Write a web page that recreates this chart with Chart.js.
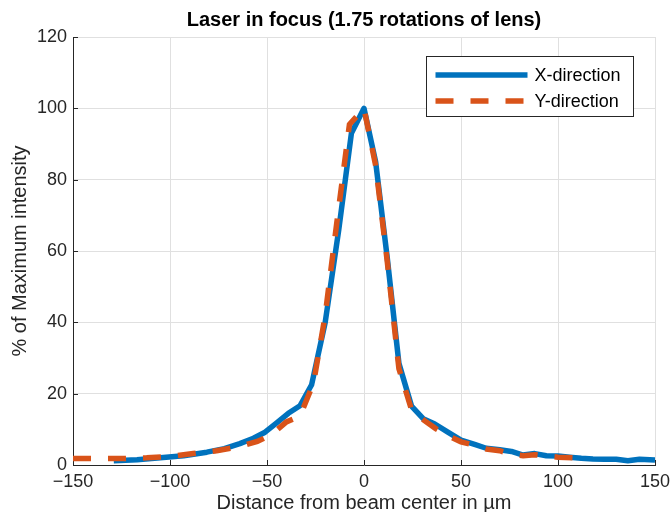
<!DOCTYPE html>
<html>
<head>
<meta charset="utf-8">
<script src="https://cdn.jsdelivr.net/npm/chart.js@4"></script>
<style>
  body { margin: 0; background: #fff; }
  canvas { display: block; }
</style>
</head>
<body>
<canvas id="grafico" width="670" height="512"></canvas>
<script>
// X-direction profile (position in um, % of max)
const xPos = [-129, -117, -105, -93, -81, -72, -64, -57, -51, -45, -39, -33, -27, -20, -13, -6.5, 0,
  6, 12, 18, 24.5, 30.5, 36.5, 43, 50, 57, 63, 70, 76, 82, 88, 94, 100, 106, 112, 118, 124, 130, 136, 142, 150];
const xIntensity = [1.2, 1.5, 2.0, 2.6, 3.6, 4.6, 6.0, 7.5, 9.2, 11.8, 14.5, 16.6, 22.5, 40, 66, 93, 100,
  85, 58, 28.5, 16.5, 13.0, 11.5, 9.3, 7.0, 5.8, 4.7, 4.3, 3.8, 2.8, 3.2, 2.6, 2.5, 2.2, 1.9, 1.7, 1.6, 1.6, 1.2, 1.6, 1.4];

// Y-direction profile
const yPos = [-150, -125, -112, -100, -88, -76, -64, -55, -48, -40, -33, -26, -20, -14, -7.5, 0,
  6, 12, 18, 24.5, 31, 37, 43, 50, 57, 63, 70, 76, 82, 88, 94, 100, 108, 115];
const yIntensity = [1.8, 1.8, 2.0, 2.4, 3.2, 4.0, 5.2, 6.6, 8.4, 12.1, 13.7, 23, 42, 68, 95.5, 100,
  84, 57, 27, 15.5, 12.5, 10.2, 8.3, 6.5, 5.5, 4.5, 4.0, 3.0, 2.6, 2.9, 2.5, 2.2, 2.0, 2.0];

const seriesNames = ['X-direction', 'Y-direction'];
const xTicks = { min: -150, max: 150, step: 50 };
const yTicks = { min: 0, max: 120, step: 20 };

const FONT = "'Liberation Sans', Arial, Helvetica, sans-serif";
const AXIS = '#262626';
const minus = v => String(v).replace('-', '\u2212');

// MATLAB style ticks pointing into the plot
const innerTicks = {
  id: 'innerTicks',
  beforeDatasetsDraw(chart) {
    const { ctx, chartArea, scales } = chart;
    ctx.save();
    ctx.strokeStyle = AXIS;
    ctx.lineWidth = 1;
    ctx.beginPath();
    scales.x.ticks.forEach(t => {
      const px = Math.round(scales.x.getPixelForValue(t.value)) + 0.5;
      ctx.moveTo(px, chartArea.bottom);
      ctx.lineTo(px, chartArea.bottom - 5);
    });
    scales.y.ticks.forEach(t => {
      const py = Math.round(scales.y.getPixelForValue(t.value)) + 0.5;
      ctx.moveTo(chartArea.left, py);
      ctx.lineTo(chartArea.left + 5, py);
    });
    ctx.stroke();
    ctx.restore();
  }
};

// boxed legend in the upper right of the axes
const boxLegend = {
  id: 'boxLegend',
  afterDraw(chart) {
    const { ctx, chartArea } = chart;
    const w = 207, h = 60;
    const left = Math.round(chartArea.right - 22 - w) + 0.5;
    const top = Math.round(chartArea.top + 19) + 0.5;
    ctx.save();
    ctx.fillStyle = '#fff';
    ctx.fillRect(left, top, w, h);
    ctx.strokeStyle = AXIS;
    ctx.lineWidth = 1;
    ctx.strokeRect(left, top, w, h);
    chart.data.datasets.forEach((ds, i) => {
      const y = top + 18.5 + i * 26;
      ctx.beginPath();
      ctx.strokeStyle = ds.borderColor;
      ctx.lineWidth = 5.5;
      ctx.setLineDash(ds.borderDash || []);
      ctx.moveTo(left + 9, y);
      ctx.lineTo(left + 101, y);
      ctx.stroke();
      ctx.setLineDash([]);
      ctx.fillStyle = '#000';
      ctx.font = '18px ' + FONT;
      ctx.textBaseline = 'middle';
      ctx.fillText(ds.label, left + 108, y + 1);
    });
    ctx.restore();
  }
};

const ctx = document.getElementById('grafico').getContext('2d');
new Chart(ctx, {
  type: 'line',
  data: {
    datasets: [{
      label: seriesNames[0],
      data: xPos.map((x, i) => ({ x: x, y: xIntensity[i] })),
      borderColor: '#0072BD',
      borderWidth: 5.5,
      borderJoinStyle: 'round',
      pointRadius: 0,
      order: 1
    }, {
      label: seriesNames[1],
      data: yPos.map((x, i) => ({ x: x, y: yIntensity[i] })),
      borderColor: '#D95319',
      borderWidth: 5.5,
      borderDash: [18, 17],
      pointRadius: 0,
      order: 0
    }]
  },
  options: {
    responsive: false,
    animation: false,
    layout: { padding: { left: 0, right: 0, top: 0, bottom: 0 } },
    plugins: {
      legend: { display: false },
      tooltip: { enabled: false },
      title: {
        display: true,
        text: 'Laser in focus (1.75 rotations of lens)',
        fullSize: false,
        color: '#000',
        font: { family: FONT, size: 20, weight: 'bold' },
        padding: { top: 8, bottom: 5 }
      }
    },
    scales: {
      x: {
        type: 'linear',
        min: xTicks.min,
        max: xTicks.max,
        afterFit: s => { s.height = 47; s.paddingRight = 15; },
        ticks: {
          stepSize: xTicks.step,
          color: AXIS,
          padding: 6,
          maxRotation: 0,
          font: { family: FONT, size: 18 },
          callback: minus
        },
        grid: { color: '#e0e0e0', drawTicks: false },
        border: { display: true, color: AXIS, width: 1 },
        title: {
          display: true,
          text: 'Distance from beam center in µm',
          color: AXIS,
          font: { family: FONT, size: 20 },
          padding: { top: 0, bottom: -3 }
        }
      },
      y: {
        min: yTicks.min,
        max: yTicks.max,
        afterFit: s => { s.width = 73; },
        ticks: {
          stepSize: yTicks.step,
          color: AXIS,
          padding: 6,
          font: { family: FONT, size: 18 },
          callback: minus
        },
        grid: { color: '#e0e0e0', drawTicks: false },
        border: { display: true, color: AXIS, width: 1 },
        title: {
          display: true,
          text: '% of Maximum intensity',
          color: AXIS,
          font: { family: FONT, size: 20 },
          padding: { top: 8, bottom: 0 }
        }
      }
    }
  },
  plugins: [innerTicks, boxLegend]
});
</script>
</body>
</html>
